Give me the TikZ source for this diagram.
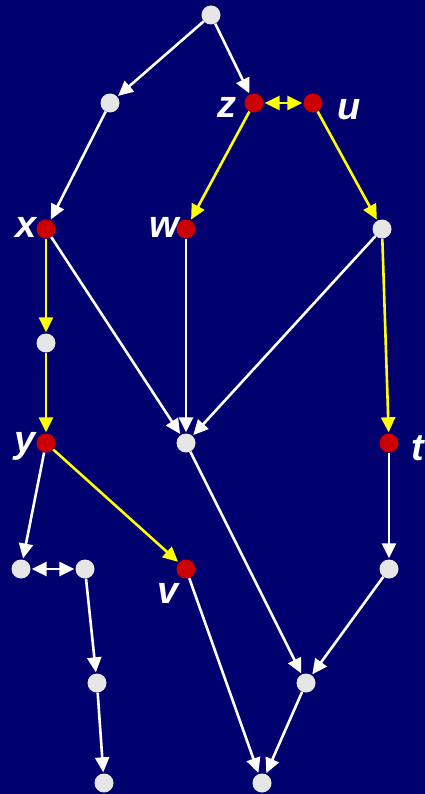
\documentclass[tikz,border=0pt]{standalone}
\usepackage{fontspec}
\setmainfont{Liberation Sans}
\usepackage{xcolor}
\usepackage{tikz}
\usetikzlibrary{arrows.meta}
\definecolor{navybg}{RGB}{0,0,110}
\definecolor{dotgray}{RGB}{230,230,230}
\definecolor{dotred}{RGB}{204,0,0}
\definecolor{pathyellow}{RGB}{255,255,0}
\tikzset{
  dot/.style={circle, fill=dotgray, minimum size=19pt, inner sep=0pt},
  reddot/.style={circle, fill=dotred, minimum size=19pt, inner sep=0pt},
  wedge/.style={-{Triangle[length=15pt,width=14pt]}, line width=2.6pt, white, shorten >=1pt},
  hotedge/.style={-{Triangle[length=15pt,width=14pt]}, line width=2.6pt, pathyellow, shorten >=1pt},
  vlabel/.style={anchor=base, inner sep=0pt, text=white, font=\fontsize{38}{38}\selectfont\bfseries\itshape},
}

\begin{document}
\begin{tikzpicture}[x=1pt, y=-1pt]
  % Background
  \fill[navybg] (0,0) rectangle (425,794);

  % Vertices
  \node[dot] (top) at (211,15) {};
  \node[dot] (a1) at (110,103) {};
  \node[reddot] (z) at (254,103) {};
  \node[reddot] (u) at (313,103) {};
  \node[reddot] (x) at (46,229) {};
  \node[reddot] (w) at (186,229) {};
  \node[dot] (r1) at (382,229) {};
  \node[dot] (m1) at (46,343) {};
  \node[reddot] (y) at (46,443) {};
  \node[dot] (c) at (186,443) {};
  \node[reddot] (t) at (389,443) {};
  \node[dot] (l1) at (21,569) {};
  \node[dot] (l2) at (85,569) {};
  \node[reddot] (v) at (186,569) {};
  \node[dot] (r2) at (389,569) {};
  \node[dot] (l3) at (97,683) {};
  \node[dot] (c2) at (306,683) {};
  \node[dot] (l4) at (104,783) {};
  \node[dot] (b) at (262,783) {};

  % Labels
  \node[vlabel] (zlab) at (227,118) {z};
  \node[vlabel] (ulab) at (349,120) {u};
  \node[vlabel] (xlab) at (26,237) {x};
  \node[vlabel] (wlab) at (164,237) {w};
  \node[vlabel] (ylab) at (25,452) {y};
  \node[vlabel] (tlab) at (418,460) {t};
  \node[vlabel] (vlab) at (168,603) {v};

  % White edges
  \foreach \s/\d in {top/a1, top/z, a1/x, x/c, w/c, r1/c, y/l1, l2/l3, l3/l4, c/c2, t/r2, r2/c2, v/b, c2/b} {
    \draw[wedge] (\s) -- (\d);
  }
  \draw[wedge, {Triangle[length=15pt,width=14pt]}-{Triangle[length=15pt,width=14pt]}, shorten <=1pt] (l1) -- (l2);

  % Yellow path
  \foreach \s/\d in {z/w, u/r1, x/m1, m1/y, r1/t, y/v} {
    \draw[hotedge] (\s) -- (\d);
  }
  \draw[hotedge, {Triangle[length=15pt,width=14pt]}-{Triangle[length=15pt,width=14pt]}, shorten <=1pt] (z) -- (u);
\end{tikzpicture}
\end{document}
